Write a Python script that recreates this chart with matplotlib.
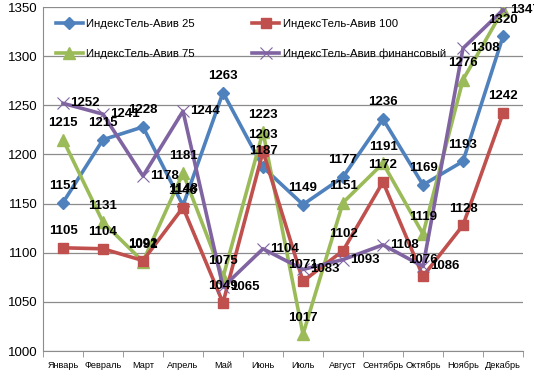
import matplotlib
matplotlib.use("Agg")
from matplotlib import pyplot as plt
import numpy as np

months = ['Январь', 'Февраль', 'Март', 'Апрель', 'Май', 'Июнь', 'Июль',
          'Август', 'Сентябрь', 'Октябрь', 'Ноябрь', 'Декабрь']

ta25 = [1151, 1215, 1228, 1148, 1263, 1187, 1149, 1177, 1236, 1169, 1193, 1320]
ta100 = [1105, 1104, 1092, 1146, 1049, 1203, 1071, 1102, 1172, 1076, 1128, 1242]
ta75 = [1215, 1131, 1091, 1181, 1075, 1223, 1017, 1151, 1191, 1119, 1276, 1347]
ta_fin = [1252, 1241, 1178, 1244, 1065, 1104, 1083, 1093, 1108, 1086, 1308, 1347]

plt.rcParams['font.family'] = ['Liberation Sans', 'DejaVu Sans']

fig = plt.figure(figsize=(5.34, 3.76), dpi=100)
ax = fig.add_axes([43 / 534, 1 - 351 / 376, 480 / 534, 344 / 376])

x = np.arange(len(months))

# (values, label, colour, marker, marker size, label placement)
series = [
    (ta25, 'ИндексТель-Авив 25', '#4F81BD', 'D', 6, 'above'),
    (ta75, 'ИндексТель-Авив 75', '#9BBB59', '^', 8, 'above'),
    (ta100, 'ИндексТель-Авив 100', '#C0504D', 's', 7, 'above'),
    (ta_fin, 'ИндексТель-Авив финансовый', '#8064A2', 'x', 8, 'right'),
]

handles = []
for vals, name, col, mk, ms, pos in series:
    h, = ax.plot(x, vals, color=col, lw=2.6, marker=mk, markersize=ms,
                 markeredgewidth=1 if mk != 'x' else 0.8, label=name, zorder=3)
    handles.append(h)
    for xi, v in zip(x, vals):
        if pos == 'above':
            ax.annotate(str(v), (xi, v), xytext=(0, 12), textcoords='offset points',
                        ha='center', va='center', fontsize=9.5, fontweight='bold',
                        zorder=5)
        else:
            ax.annotate(str(v), (xi, v), xytext=(5, 0), textcoords='offset points',
                        ha='left', va='center', fontsize=9.5, fontweight='bold',
                        zorder=5)

ax.set_xlim(-0.5, 11.5)
ax.set_ylim(1000, 1350)
ax.set_yticks(np.arange(1000, 1351, 50))
ax.yaxis.grid(True, color='#8c8c8c', lw=0.9)
ax.set_axisbelow(True)
ax.tick_params(axis='y', length=0, labelsize=9.5, pad=4)

ax.set_xticks(x)
ax.set_xticklabels(months, fontsize=6.6)
ax.set_xticks(np.arange(-0.5, 12, 1), minor=True)
ax.tick_params(axis='x', which='major', length=0, pad=7)
ax.tick_params(axis='x', which='minor', length=4, color='#8c8c8c', direction='out')

for s in ['top', 'right']:
    ax.spines[s].set_visible(False)
ax.spines['left'].set_color('#8c8c8c')
ax.spines['bottom'].set_color('#8c8c8c')

ax.legend(handles=handles, ncol=2, loc='upper left', bbox_to_anchor=(0.005, 0.995),
          frameon=False, fontsize=8.2, handlelength=2.4, labelspacing=1.75,
          columnspacing=5.0, handletextpad=0.3)

plt.savefig('out.png', dpi=100)
